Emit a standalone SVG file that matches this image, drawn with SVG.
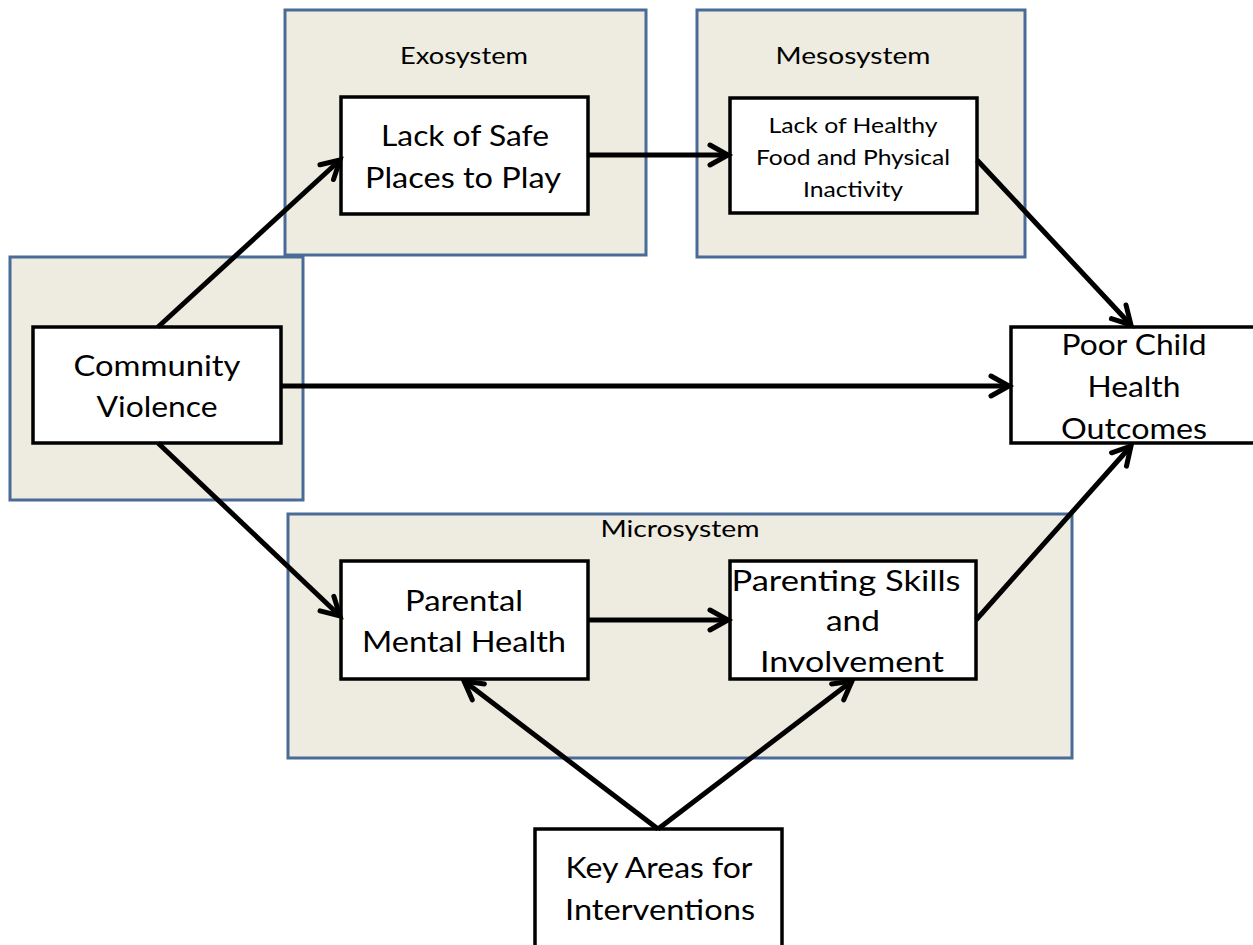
<svg xmlns="http://www.w3.org/2000/svg" width="1253" height="945" viewBox="0 0 1253 945">
<style>
.sys{fill:#EEECE1;stroke:#4A6A98;stroke-width:3}
.box{fill:#FFFFFF;stroke:#000000;stroke-width:3.5}
.t{font-family:Lato,"Liberation Sans",sans-serif;fill:#000;text-anchor:middle}
.lg{font-size:29px}
.md{font-size:23px}
.sm{font-size:21px}
.c{fill:none;stroke:#000;stroke-width:5}
</style>
<defs>
<marker id="ah" markerUnits="userSpaceOnUse" markerWidth="30" markerHeight="30" refX="22" refY="12" orient="auto" viewBox="0 0 30 24">
<path d="M4,2 L22,12 L4,22" fill="none" stroke="#000" stroke-width="5" stroke-linecap="round" stroke-linejoin="miter"/>
</marker>
</defs>
<g id="exosystem">
<rect class="sys" x="285" y="10" width="361" height="245"/>
<text class="t md" x="464" y="64" textLength="128" lengthAdjust="spacingAndGlyphs">Exosystem</text>
</g>
<g id="mesosystem">
<rect class="sys" x="697" y="10" width="328" height="247"/>
<text class="t md" x="853" y="64" textLength="155" lengthAdjust="spacingAndGlyphs">Mesosystem</text>
</g>
<g id="cv-system">
<rect class="sys" x="10" y="257" width="293" height="243"/>
</g>
<g id="microsystem">
<rect class="sys" x="288" y="514" width="784" height="244"/>
<text class="t md" x="680" y="537" textLength="159" lengthAdjust="spacingAndGlyphs">Microsystem</text>
</g>
<g id="lack-safe">
<rect class="box" x="341" y="97" width="247" height="117"/>
<text class="t lg" x="465" y="146" textLength="168" lengthAdjust="spacingAndGlyphs">Lack of Safe</text>
<text class="t lg" x="463" y="188" textLength="196" lengthAdjust="spacingAndGlyphs">Places to Play</text>
</g>
<g id="lack-food">
<rect class="box" x="730" y="98" width="247" height="115"/>
<text class="t sm" x="853" y="133" textLength="169" lengthAdjust="spacingAndGlyphs">Lack of Healthy</text>
<text class="t sm" x="853" y="165" textLength="194" lengthAdjust="spacingAndGlyphs">Food and Physical</text>
<text class="t sm" x="853" y="197" textLength="100" lengthAdjust="spacingAndGlyphs">Inactivity</text>
</g>
<g id="community-violence">
<rect class="box" x="33" y="327" width="248" height="116"/>
<text class="t lg" x="157" y="376" textLength="167" lengthAdjust="spacingAndGlyphs">Community</text>
<text class="t lg" x="157" y="417" textLength="121" lengthAdjust="spacingAndGlyphs">Violence</text>
</g>
<g id="poor-child">
<rect class="box" x="1011" y="327" width="250" height="116"/>
<text class="t lg" x="1134" y="355" textLength="145" lengthAdjust="spacingAndGlyphs">Poor Child</text>
<text class="t lg" x="1134" y="397" textLength="93" lengthAdjust="spacingAndGlyphs">Health</text>
<text class="t lg" x="1134" y="439" textLength="146" lengthAdjust="spacingAndGlyphs">Outcomes</text>
</g>
<g id="parental-mental">
<rect class="box" x="341" y="561" width="247" height="118"/>
<text class="t lg" x="464" y="611" textLength="118" lengthAdjust="spacingAndGlyphs">Parental</text>
<text class="t lg" x="464" y="652" textLength="204" lengthAdjust="spacingAndGlyphs">Mental Health</text>
</g>
<g id="parenting-skills">
<rect class="box" x="730" y="561" width="246" height="118"/>
<text class="t lg" x="846" y="591" textLength="229" lengthAdjust="spacingAndGlyphs">Parenting Skills</text>
<text class="t lg" x="853" y="631" textLength="54" lengthAdjust="spacingAndGlyphs">and</text>
<text class="t lg" x="852" y="672" textLength="184" lengthAdjust="spacingAndGlyphs">Involvement</text>
</g>
<g id="key-areas">
<rect class="box" x="535" y="829" width="247" height="130"/>
<text class="t lg" x="659" y="878" textLength="187" lengthAdjust="spacingAndGlyphs">Key Areas for</text>
<text class="t lg" x="660" y="920" textLength="190" lengthAdjust="spacingAndGlyphs">Interventions</text>
</g>
<g id="connectors">
<line class="c" x1="158" y1="327" x2="340" y2="160" marker-end="url(#ah)"/>
<line class="c" x1="588" y1="155" x2="728" y2="155" marker-end="url(#ah)"/>
<line class="c" x1="977" y1="160" x2="1131" y2="325" marker-end="url(#ah)"/>
<line class="c" x1="281" y1="386" x2="1009" y2="386" marker-end="url(#ah)"/>
<line class="c" x1="158" y1="443" x2="340" y2="616" marker-end="url(#ah)"/>
<line class="c" x1="588" y1="620" x2="728" y2="620" marker-end="url(#ah)"/>
<line class="c" x1="976" y1="620" x2="1131" y2="446" marker-end="url(#ah)"/>
<line class="c" x1="658" y1="829" x2="464" y2="681" marker-end="url(#ah)"/>
<line class="c" x1="658" y1="829" x2="852" y2="681" marker-end="url(#ah)"/>
</g>
</svg>
